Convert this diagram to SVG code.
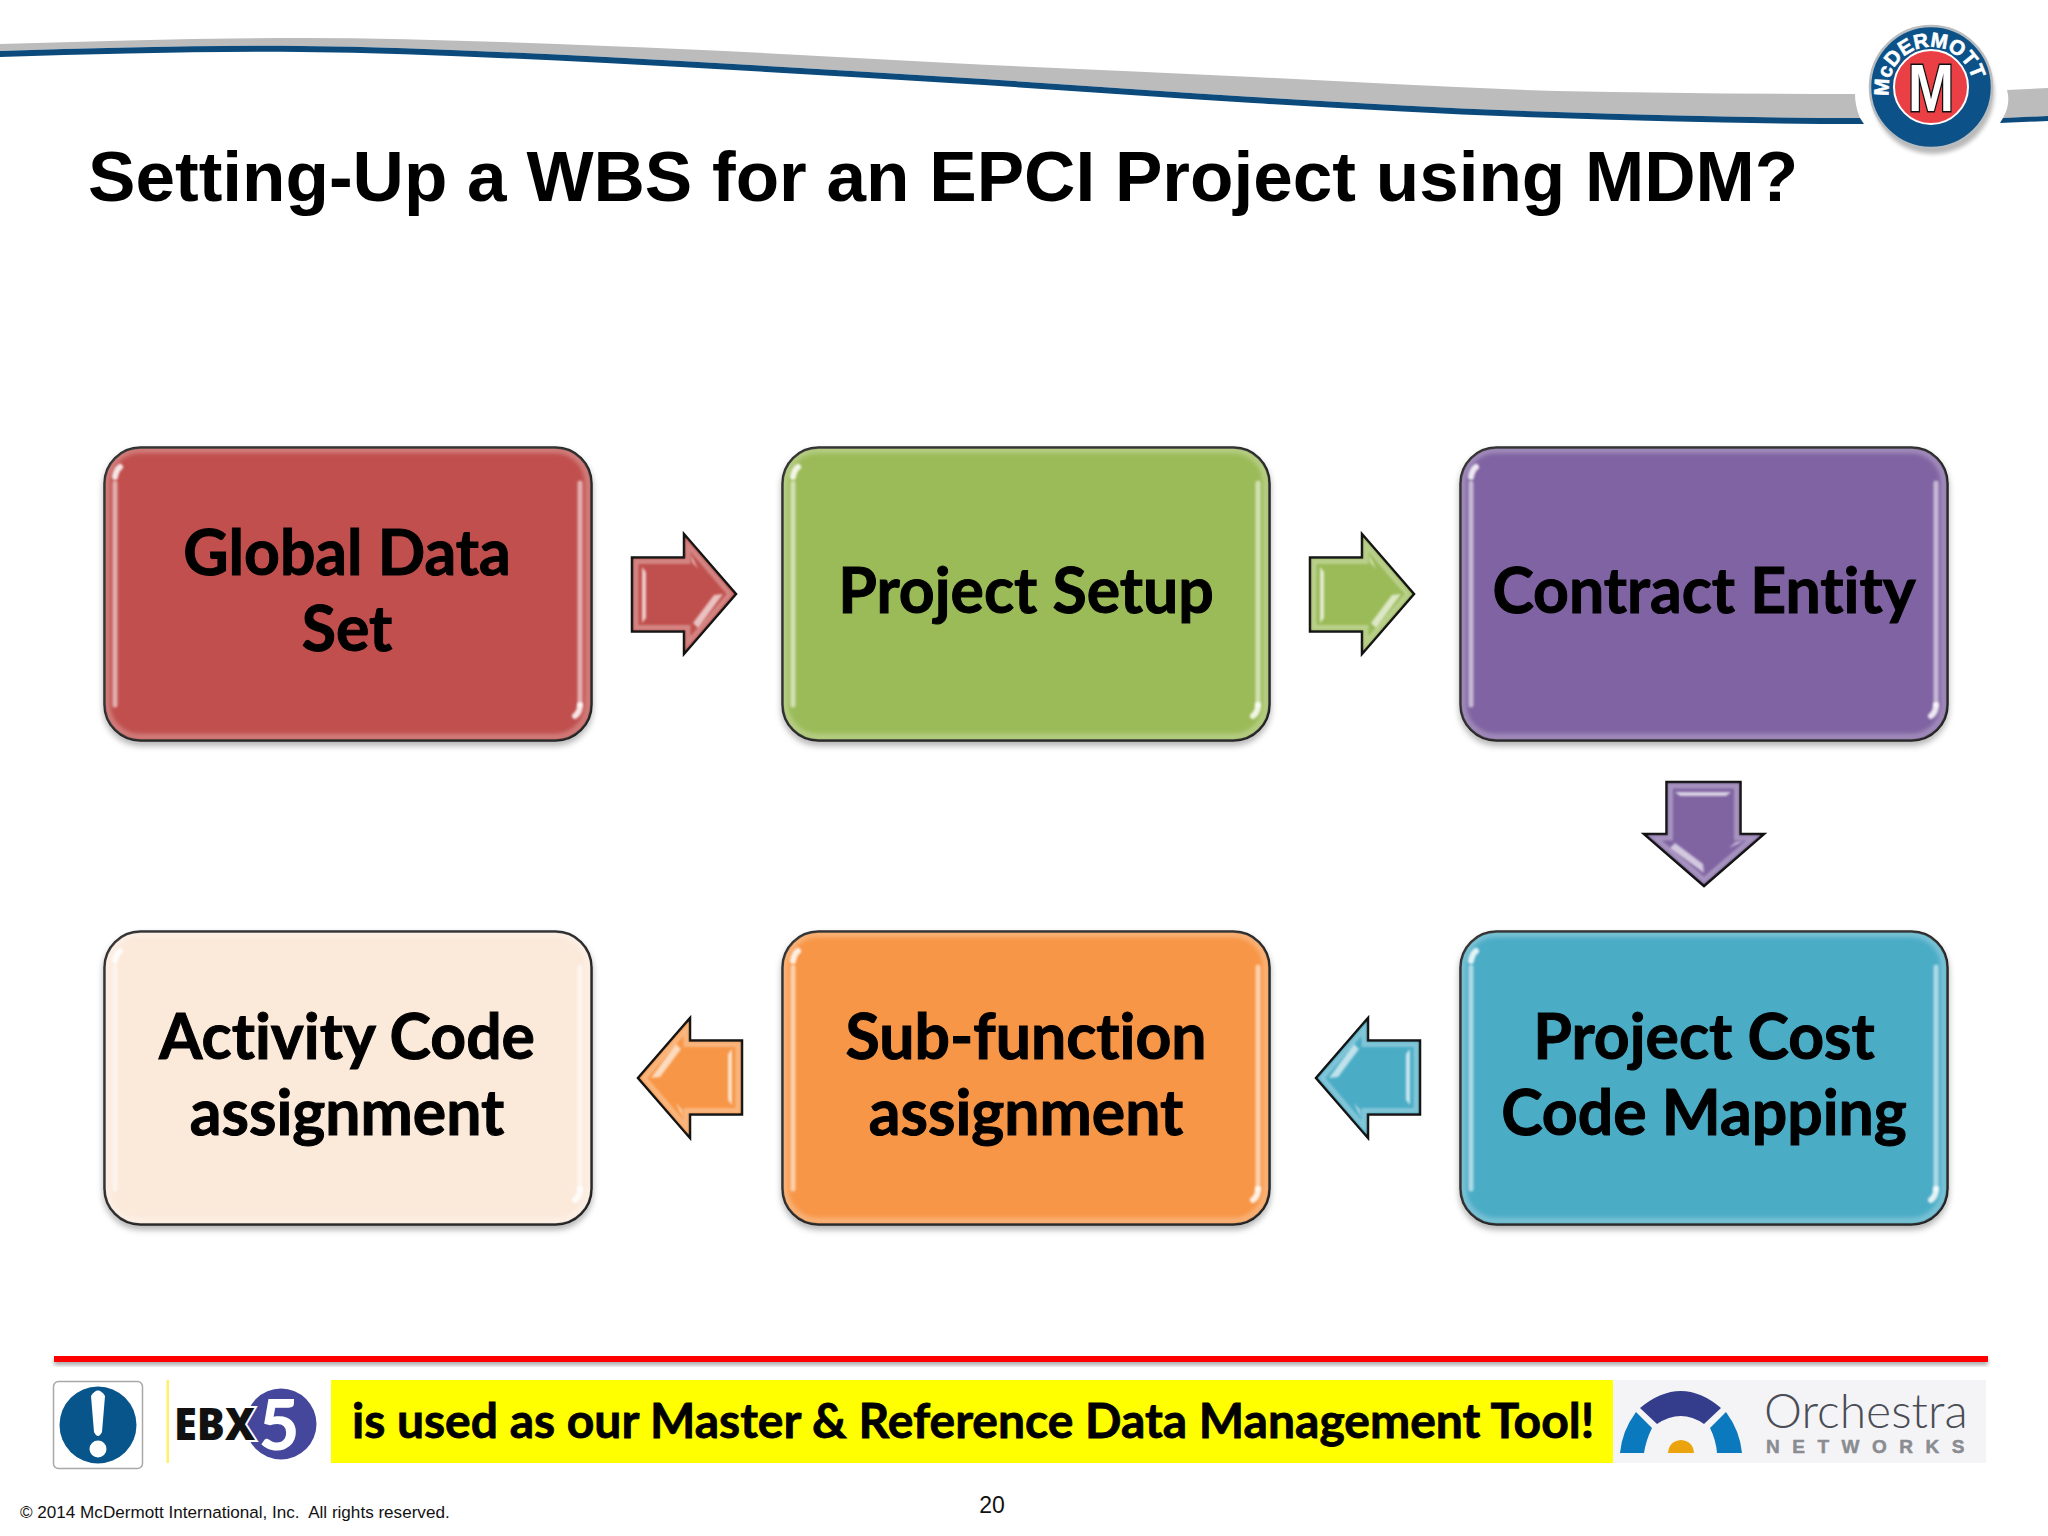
<svg xmlns="http://www.w3.org/2000/svg" xmlns:xlink="http://www.w3.org/1999/xlink" width="2048" height="1536" viewBox="0 0 2048 1536">
<style>
.lbl{font-family:"Lato","Liberation Sans",sans-serif;font-weight:700;font-size:62.500px;fill:#000;stroke:#000;stroke-width:1;text-anchor:middle;font-variant-ligatures:none}
.box{stroke:#111;stroke-width:2.500}
.arr{stroke:#111;stroke-width:2.500;stroke-linejoin:miter}
.hl{fill:none;stroke:#fff;stroke-linecap:round}
</style>
<defs>
<filter id="sh" x="-5%" y="-5%" width="110%" height="115%"><feDropShadow dx="0" dy="4" stdDeviation="3" flood-color="#000" flood-opacity=".3"/></filter>
<filter id="b1" x="-30%" y="-30%" width="160%" height="160%"><feGaussianBlur stdDeviation="1"/></filter>
<filter id="b2" x="-20%" y="-20%" width="140%" height="140%"><feGaussianBlur stdDeviation="2"/></filter>
<g id="bevel">
<rect x="3" y="3" width="481" height="287" rx="33" fill="none" stroke="#fff" stroke-opacity=".28" stroke-width="6" filter="url(#b2)"/>
<path class="hl" d="M11 36V258M476 36V258" stroke-width="5" stroke-opacity=".55" filter="url(#b1)"/>
<path class="hl" d="M11 30q1-7 5-10M476 258q0 7-5 11" stroke-width="6" stroke-opacity=".85" filter="url(#b1)"/>
</g>
<g id="ar">
<path d="M1 25.500H53V2L105 62 53 122V99.500H1Z" class="arr"/>
<path d="M5 29.500H57V13L99 62 57 111V95.500H5Z" fill="none" stroke="#fff" stroke-opacity=".3" stroke-width="5" filter="url(#b1)"/>
<path d="M11 35L15 40V86L11 91Z" fill="#fff" fill-opacity=".7" filter="url(#b1)"/>
<path d="M92 62L83 63 62 91 67 96Z" fill="#fff" fill-opacity=".65" filter="url(#b1)"/>
<path d="M60 22L67 37 61 30Z" fill="#fff" fill-opacity=".6" filter="url(#b1)"/>
</g>
<path id="ringtext" d="M1889 96A42.500 42.500 0 1 1 1973 96"/>
</defs>
<rect width="2048" height="1536" fill="#fff"/>

<g id="header">
<path d="M0 44C100 41 200 38 300 38C402 38 504 42 606 46C721 50 835 57 950 63C1051 68 1152 72 1253 77C1354 82 1455 88 1556 91C1656 93 1755 94 1855 94Q1855 106 1860 118C1760 118 1656 115 1556 112C1455 109 1354 103 1253 97C1152 91 1051 83 950 77C835 70 721 63 606 57C504 52 402 47 300 46C200 45 100 48 0 51Z" fill="#bcbcbd"/>
<path d="M0 51C100 48 200 45 300 46C402 47 504 52 606 57C721 63 835 70 950 77C1051 83 1152 91 1253 97C1354 103 1455 109 1556 112C1656 115 1760 118 1860 118L1864 124C1760 124 1656 121 1556 118C1455 115 1354 109 1253 103C1152 97 1051 89 950 83C835 76 721 69 606 63C504 58 402 53 300 52C200 51 100 54 0 57Z" fill="#0c4a7c"/>
<path d="M2007 90L2048 88V116L2003 118Q2011 104 2007 90Z" fill="#bcbcbd"/>
<path d="M2003 118L2048 116V121L2000 123Z" fill="#0c4a7c"/>
<g id="logo">
<circle cx="1933" cy="93" r="61" fill="#000" opacity=".28" filter="url(#b2)"/>
<circle cx="1931" cy="87" r="61" fill="#0c5288" stroke="#b9bcbe" stroke-width="2.500"/>
<circle cx="1931" cy="87" r="37" fill="#e93f45" stroke="#fff" stroke-width="2"/>
<text x="1931" y="111" font-family="Liberation Sans,sans-serif" font-weight="700" font-size="66" text-anchor="middle" textLength="46" lengthAdjust="spacingAndGlyphs" fill="#fff" stroke="#111" stroke-width="3" paint-order="stroke">M</text>
<text font-family="Liberation Sans,sans-serif" font-weight="700" font-size="20.500" fill="#fff" stroke="#fff" stroke-width=".6"><textPath href="#ringtext" xlink:href="#ringtext">McDERMOTT</textPath></text>
</g>
</g>

<text id="title" x="88" y="201" font-family="Liberation Sans,sans-serif" font-weight="700" font-size="71.100" fill="#000">Setting-Up a WBS for an EPCI Project using MDM?</text>

<g id="connectors">
<use href="#ar" xlink:href="#ar" transform="translate(631 532)" fill="#c0504d"/>
<use href="#ar" xlink:href="#ar" transform="translate(1309 532)" fill="#9bbb59"/>
<use href="#ar" xlink:href="#ar" transform="translate(1766 781) rotate(90)" fill="#8064a2"/>
<use href="#ar" xlink:href="#ar" transform="translate(1421 1140) rotate(180)" fill="#4bacc6"/>
<use href="#ar" xlink:href="#ar" transform="translate(743 1140) rotate(180)" fill="#f79646"/>
</g>

<g id="node-global"><rect class="box" x="104.500" y="447.500" width="487" height="293" rx="36" fill="#c0504d" filter="url(#sh)"/><use href="#bevel" xlink:href="#bevel" x="104" y="447"/><text class="lbl"><tspan x="347" y="575">Global Data</tspan><tspan x="347" y="651">Set</tspan></text></g>
<g id="node-setup"><rect class="box" x="782.500" y="447.500" width="487" height="293" rx="36" fill="#9bbb59" filter="url(#sh)"/><use href="#bevel" xlink:href="#bevel" x="782" y="447"/><text class="lbl" x="1026" y="613">Project Setup</text></g>
<g id="node-contract"><rect class="box" x="1460.500" y="447.500" width="487" height="293" rx="36" fill="#8064a2" filter="url(#sh)"/><use href="#bevel" xlink:href="#bevel" x="1460" y="447"/><text class="lbl" x="1704" y="613">Contract Entity</text></g>
<g id="node-cost"><rect class="box" x="1460.500" y="931.500" width="487" height="293" rx="36" fill="#4bacc6" filter="url(#sh)"/><use href="#bevel" xlink:href="#bevel" x="1460" y="931"/><text class="lbl"><tspan x="1704" y="1059">Project Cost</tspan><tspan x="1704" y="1135">Code Mapping</tspan></text></g>
<g id="node-subfunction"><rect class="box" x="782.500" y="931.500" width="487" height="293" rx="36" fill="#f79646" filter="url(#sh)"/><use href="#bevel" xlink:href="#bevel" x="782" y="931"/><text class="lbl"><tspan x="1026" y="1059">Sub-function</tspan><tspan x="1026" y="1135">assignment</tspan></text></g>
<g id="node-activity"><rect class="box" x="104.500" y="931.500" width="487" height="293" rx="36" fill="#fbe9da" filter="url(#sh)"/><use href="#bevel" xlink:href="#bevel" x="104" y="931"/><text class="lbl"><tspan x="347" y="1059">Activity Code</tspan><tspan x="347" y="1135">assignment</tspan></text></g>

<g id="footer">
<rect x="54" y="1359" width="1934" height="6" fill="#000" opacity=".35" filter="url(#b2)"/>
<rect x="54" y="1356" width="1934" height="6" fill="#f00"/>
<rect x="53.500" y="1381.500" width="89" height="87" rx="5" fill="#fff" stroke="#a8a8a8" stroke-width="1.500"/>
<circle cx="98" cy="1425" r="38.500" fill="#08558c"/>
<path d="M91 1396Q98 1385 105 1396L102 1432Q98 1440 94 1432Z" fill="#fff"/>
<circle cx="98" cy="1449" r="8.500" fill="#fff"/>
<rect x="166.500" y="1380" width="2.500" height="83" fill="#fdf06a"/>
<circle cx="281" cy="1424" r="35.500" fill="#44479b"/>
<text x="279" y="1450" font-family="Lato,sans-serif" font-weight="900" font-size="70" fill="#fff" text-anchor="middle">5</text>
<text x="174" y="1440" font-family="Open Sans,sans-serif" font-weight="800" font-size="44" fill="#111" stroke="#fff" stroke-width="4" paint-order="stroke" textLength="81" lengthAdjust="spacingAndGlyphs">EBX</text>
<rect x="331" y="1380" width="1282" height="83" fill="#ff0"/>
<text x="352" y="1438" font-family="Lato,sans-serif" font-weight="700" font-size="48" fill="#000" stroke="#000" stroke-width=".8" style="font-variant-ligatures:none">is used as our Master &amp; Reference Data Management Tool!</text>
<rect x="1613" y="1380" width="373" height="83" fill="#f4f4f7"/>
<path d="M1620 1453Q1622 1431 1636 1412L1652 1428Q1646 1440 1644 1453Z" fill="#0b79bd"/>
<path d="M1742 1453Q1740 1431 1726 1412L1710 1428Q1716 1440 1717 1453Z" fill="#0b79bd"/>
<path d="M1640 1408Q1681 1374 1721 1408L1704 1424Q1681 1408 1657 1424Z" fill="#343d8b"/>
<path d="M1668 1453Q1669 1441 1681 1440Q1693 1441 1694 1453Z" fill="#eba40d"/>
<text x="1764" y="1428" font-family="Lato,sans-serif" font-weight="300" font-size="48" fill="#4a4d55">Orchestra</text>
<text x="1766" y="1453" font-family="Liberation Sans,sans-serif" font-weight="700" font-size="19" fill="#8a8c92" stroke="#8a8c92" stroke-width=".5" letter-spacing="12.500">NETWORKS</text>
<text x="20" y="1518" font-family="Liberation Sans,sans-serif" font-size="17.100" fill="#111" xml:space="preserve">© 2014 McDermott International, Inc.  All rights reserved.</text>
<text x="992" y="1513" font-family="Liberation Sans,sans-serif" font-size="23" fill="#111" text-anchor="middle">20</text>
</g>
</svg>
